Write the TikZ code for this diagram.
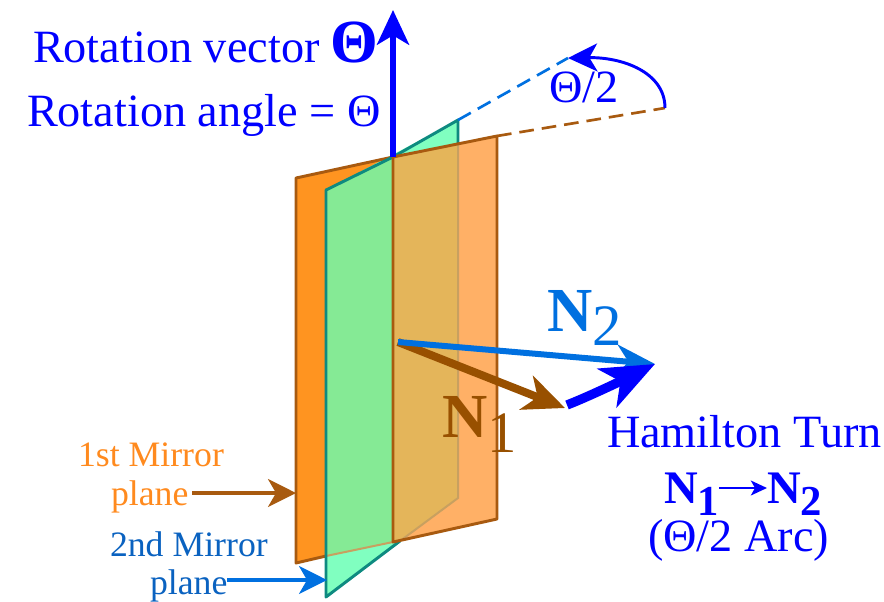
\documentclass[tikz,border=0pt]{standalone}
\usepackage{fontspec}
\setmainfont{Liberation Serif}
\usetikzlibrary{arrows.meta, positioning}

\definecolor{planeorange}{HTML}{FF9420}
\definecolor{planegreen}{HTML}{80FFC0}
\definecolor{overgreen}{HTML}{85EA95}
\definecolor{paleorange}{HTML}{FFB066}
\definecolor{overorange}{HTML}{E4B55A}
\definecolor{edgebrown}{HTML}{A85A10}
\definecolor{edgeteal}{HTML}{0E8A80}
\definecolor{edgefaint}{HTML}{C8A060}
\definecolor{normalblue}{HTML}{0070E0}
\definecolor{normalbrown}{HTML}{985000}
\definecolor{labelorange}{HTML}{FF8A1E}
\definecolor{labelblue}{HTML}{0A62C0}

\newcommand{\fsize}[1]{\fontsize{#1}{#1}\selectfont}
\newcommand{\lowsub}[1]{\raisebox{-9pt}[0pt][0pt]{\fsize{32}#1}}

\tikzset{
  lbl/.style={inner sep=0pt, outer sep=0pt, anchor=base west},
  rotlabel/.style={lbl, blue, font=\fsize{34.7}},
  mirrorlabel/.style={lbl, font=\fsize{26.8}},
  planeedge/.style={line width=2.2pt, line join=round},
  axisarrow/.style={blue, line width=4.4pt, -{Stealth[length=26pt, width=24pt, inset=7pt]}},
  oneneedle/.style={normalbrown, line width=6pt, -{Stealth[length=31pt, width=27pt, inset=9pt]}},
  twoneedle/.style={normalblue, line width=4.5pt, -{Stealth[length=29pt, width=24pt, inset=9pt]}},
  turnneedle/.style={blue, line width=7pt, -{Stealth[length=40pt, width=32pt, inset=11pt]}},
  pointer/.style={line width=2.5pt, -{Stealth[length=21pt, width=21pt, inset=6pt]}},
  halfdash/.style={line width=2pt, dash pattern=on 11pt off 6pt},
}

\begin{document}
\begin{tikzpicture}[x=0.75pt, y=-0.75pt, >=latex]
    \useasboundingbox (0,0) rectangle (884,601);

    % corners of the two planes
    \coordinate (O) at (393,157);
    \coordinate (B) at (393,542);
    \coordinate (A1) at (296,178);
    \coordinate (A2) at (296,563);
    \coordinate (A3) at (497,136);
    \coordinate (A4) at (497,519);
    \coordinate (G1) at (326,190);
    \coordinate (G2) at (326,597);
    \coordinate (G3) at (458,120);
    \coordinate (G4) at (458,498);
    \coordinate (G5) at (400,541);
    \coordinate (G6) at (326,556);
    \coordinate (G7) at (458,144);

    % faces, back to front
    \fill[planeorange] (A1) -- (O) -- (B) -- (A2) -- cycle;
    \fill[planegreen] (G1) -- (G3) -- (G4) -- (G2) -- cycle;
    \fill[overgreen] (G1) -- (O) -- (B) -- (G6) -- cycle;
    \fill[paleorange] (O) -- (A3) -- (A4) -- (B) -- cycle;
    \fill[overorange] (O) -- (G7) -- (G4) -- (G5) -- (B) -- cycle;

    % edges
    \draw[edgebrown, planeedge] (O) -- (A1) -- (A2) -- (G6);
    \draw[edgefaint, line width=1.5pt] (G6) -- (B);
    \draw[edgefaint, line width=1.5pt] (G7) -- (G4) -- (G5);
    \draw[edgeteal, planeedge] (G5) -- (G2) -- (G1) -- (O) -- (G3) -- (G7);
    \draw[edgebrown, planeedge] (O) -- (A3) -- (A4) -- (B) -- cycle;

    % opening of the half angle
    \coordinate (Tb) at (568,58);
    \coordinate (Tr) at (665,108);
    \draw[normalblue, halfdash] (G3) -- (Tb);
    \draw[edgebrown, halfdash] (A3) -- (Tr);
    \draw[blue, line width=2.2pt, -{Stealth[length=22pt, width=21pt, inset=6pt]}]
        (Tr) .. controls (665,72) and (622,57) .. (Tb);

    % rotation vector
    \coordinate (Top) at (393,10);
    \draw[axisarrow] (O) -- (Top);

    % normals
    \coordinate (N) at (398,342);
    \coordinate (Ne1) at (565,408);
    \coordinate (Ne2) at (655,364);
    \coordinate (Hs) at (567,405);
    \draw[oneneedle] (N) -- (Ne1);
    \draw[twoneedle] (N) -- (Ne2);
    \draw[turnneedle] (Hs) .. controls (590,396) and (625,379) .. (Ne2);

    % labels
    \node[rotlabel] (rotvec) at (33,62) {Rotation vector};
    \node[rotlabel, font=\fsize{46}\bfseries] (rotsym) at (330,62) {Θ};
    \node[rotlabel] (rotang) at (27,126) {Rotation angle = Θ};
    \node[rotlabel] (half) at (549,102) {Θ/2};

    \node[lbl, normalblue, font=\fsize{47}\bfseries] (lbltwoN) at (547,331) {N};
    \node[lbl, normalblue, font=\fsize{44}] (lbltwo) at (592,345) {2};
    \node[lbl, normalbrown, font=\fsize{47}\bfseries] (lbloneN) at (442,437) {N};
    \node[lbl, normalbrown, font=\fsize{44}] (lblone) at (487,452) {1};

    \node[rotlabel] (ham) at (607,447) {Hamilton Turn};
    \node[rotlabel, font=\fsize{35}\bfseries] (hamA) at (664,503) {N\lowsub{1}};
    \node[rotlabel, font=\fsize{35}\bfseries] (hamB) at (767,503) {N\lowsub{2}};
    \draw[blue, line width=2.2pt, -{Stealth[length=12pt, width=11pt, inset=3pt]}]
        (hamA.east |- 0,488) -- (hamB.west |- 0,488);
    \node[rotlabel] (arc) at (648,551) {(Θ/2 Arc)};

    \node[mirrorlabel, labelorange] (first) at (78,466) {1st Mirror};
    \node[mirrorlabel, labelorange] (firstb) at (111,505) {plane};
    \node[mirrorlabel, labelblue] (second) at (110,556) {2nd Mirror};
    \node[mirrorlabel, labelblue] (secondb) at (150,594) {plane};

    \coordinate (Pa) at (296,493);
    \coordinate (Pb) at (327,580);
    \draw[pointer, edgebrown] (firstb.east |- Pa) ++(4,0) -- (Pa);
    \draw[pointer, normalblue] (secondb.east |- Pb) -- (Pb);

\end{tikzpicture}
\end{document}
